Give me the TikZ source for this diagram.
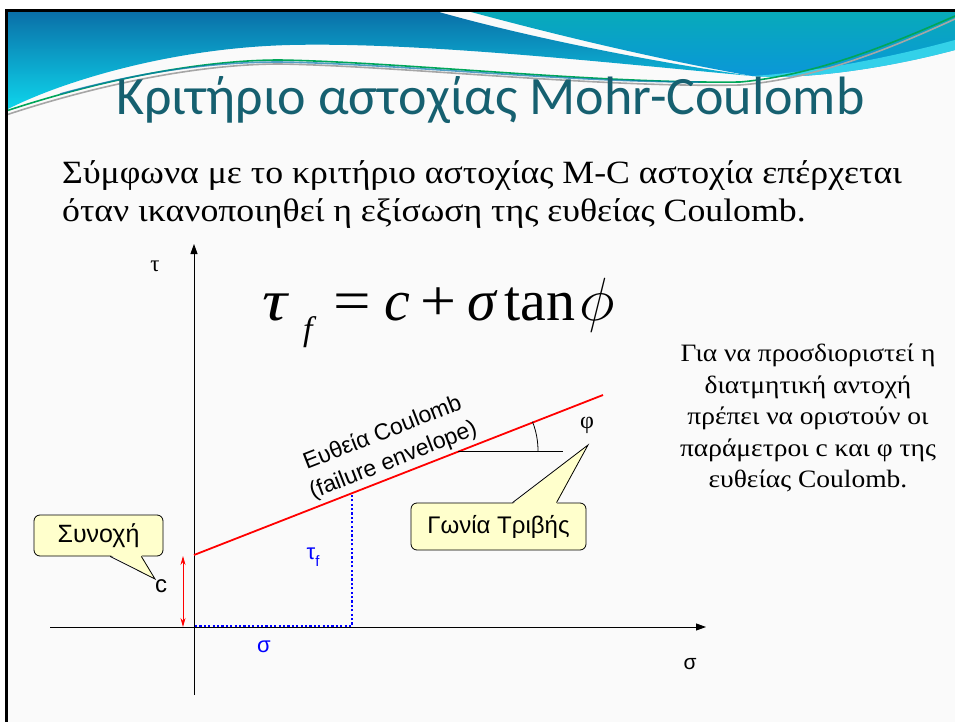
\documentclass[tikz,border=0pt]{standalone}
\usepackage{fontspec}
\setmainfont{Liberation Serif}
\newfontfamily\titlefont{Carlito}
\newfontfamily\bodyfont[FakeStretch=1.1]{Liberation Serif}
\newfontfamily\sansf{Liberation Sans}
\usetikzlibrary{arrows.meta,calc}
\definecolor{cream}{RGB}{255,255,204}
\definecolor{titleteal}{RGB}{22,96,112}
\definecolor{hdrdark}{RGB}{10,112,168}
\definecolor{hdrcyan}{RGB}{14,214,236}
\definecolor{hdrteal}{RGB}{8,170,186}
\definecolor{hdrblue}{RGB}{10,150,218}
\definecolor{slidebg}{RGB}{250,250,250}
\definecolor{pureblue}{RGB}{0,0,255}
\tikzset{
  callbox/.style={draw=black, fill=cream, rounded corners=6pt, line width=0.8pt, inner sep=0pt},
  axisline/.style={line width=0.9pt, -{Triangle[length=10pt,width=7pt]}},
  envline/.style={red, line width=1.8pt},
  dotline/.style={pureblue, line width=2.2pt, dash pattern=on 2.2pt off 2.2pt},
  lbl/.style={inner sep=0pt},
  deco/.style={line width=1.6pt},
}
\begin{document}
\begin{tikzpicture}[x=1pt,y=-1pt]
\useasboundingbox (0,0) rectangle (955,722);
% slide background and frame
\fill[white] (0,0) rectangle (955,722);
\fill[slidebg] (6,11) rectangle (955,722);
% header waves
\shade[top color=hdrdark, bottom color=hdrcyan]
  (6,12) -- (439,12) .. controls (520,35) and (640,60) .. (752,76)
  .. controls (600,62) and (420,42) .. (290,45)
  .. controls (170,48) and (60,82) .. (6,110) -- cycle;
\shade[top color=hdrteal, bottom color=hdrblue]
  (471,12) -- (955,12) -- (955,50) .. controls (880,70) and (800,80) .. (752,76)
  .. controls (650,58) and (545,32) .. (471,12) -- cycle;
\fill[hdrcyan!80!white, opacity=0.8]
  (955,50) .. controls (880,70) and (800,80) .. (752,76)
  .. controls (820,72) and (900,55) .. (955,40) -- cycle;
\draw[deco, gray!70] (6,115) .. controls (100,84) and (200,64) .. (280,64)
  .. controls (400,66) and (600,88) .. (740,85) .. controls (820,79) and (900,44) .. (955,19);
\draw[deco, teal!70!green] (6,111) .. controls (100,80) and (200,60) .. (280,60)
  .. controls (400,62) and (600,84) .. (740,82) .. controls (820,75) and (900,40) .. (955,16);
\draw[deco, hdrblue!80!black, opacity=0.7] (60,94) .. controls (140,72) and (210,62) .. (280,62)
  .. controls (400,64) and (560,82) .. (700,82);
\draw[line width=3pt] (5,11) -- (955,11);
\draw[line width=3pt] (6,10) -- (6,722);
% title
\node[lbl, anchor=base west, text=titleteal, font=\titlefont\fontsize{54}{54}\selectfont] (title) at (116,115) {Κριτήριο αστοχίας Mohr-Coulomb};
% body text
\node[lbl, anchor=base west, font=\bodyfont\fontsize{32.5}{32.5}\selectfont] (body1) at (62,183) {Σύμφωνα με το κριτήριο αστοχίας M-C αστοχία επέρχεται};
\node[lbl, anchor=base west, font=\bodyfont\fontsize{32.5}{32.5}\selectfont] (body2) at (62,222) {όταν ικανοποιηθεί η εξίσωση της ευθείας Coulomb.};
% equation
\node[lbl, anchor=base west, font=\fontsize{58}{58}\selectfont] (eq) at (262,320)
  {\makebox[39pt][l]{\itshape\scalebox{1.2}[1]{τ}}%
   \makebox[26pt][l]{\hspace{2pt}\raisebox{-0.36em}{\fontsize{34}{34}\selectfont\itshape f}}%
   \makebox[50pt][c]{\scalebox{1.15}[1]{=}}%
   \makebox[41pt][c]{\itshape c}%
   \makebox[41pt][c]{\scalebox{1.1}[1]{+}}%
   \makebox[46pt][c]{\itshape σ}%
   \makebox[70pt][c]{tan}%
   \makebox[39pt][c]{\hspace{4pt}\fontsize{24}{24}\selectfont\scalebox{2.45}{$\phi$}}};
% right paragraph
\node[lbl, align=center, font=\bodyfont\fontsize{25}{31.5}\selectfont] (para) at (808,418)
  {Για να προσδιοριστεί η\\διατμητική αντοχή\\πρέπει να οριστούν οι\\παράμετροι c και φ της\\ευθείας Coulomb.};
% axes
\coordinate (O) at (194,627);
\coordinate (ytop) at (194,244);
\coordinate (ybot) at (194,695);
\coordinate (xl) at (50,627);
\coordinate (xr) at (706,627);
\draw[axisline] (ybot) -- (ytop);
\draw[axisline] (xl) -- (xr);
\node[lbl, font=\fontsize{23}{23}\selectfont] (tau) at (155,266) {τ};
\node[lbl, font=\sansf\fontsize{21}{21}\selectfont] (sig) at (690,664) {σ};
% failure envelope
\coordinate (e0) at (194,555);
\coordinate (e1) at (603,395);
\draw[envline] (e0) -- (e1);
\node[lbl, rotate=21.4, align=center, font=\sansf\fontsize{23}{29.5}\selectfont] (envlbl) at (388,447)
  {Ευθεία Coulomb\\(failure envelope)};
% cohesion arrow
\coordinate (c0) at (183,556);
\coordinate (c1) at (183,627);
\draw[red, line width=0.8pt, {Stealth[length=9pt,width=5pt]}-{Stealth[length=9pt,width=5pt]}] (c0) -- (c1);
\node[lbl, font=\sansf\fontsize{24}{24}\selectfont] (cl) at (161,586) {c};
% sigma, tau_f
\coordinate (s0) at (195,626);
\coordinate (s1) at (352,626);
\coordinate (s2) at (352,493);
\draw[dotline] (s0) -- (s1) -- (s2);
\node[lbl, text=pureblue, font=\sansf\fontsize{22}{22}\selectfont] (sigb) at (264,647) {σ};
\node[lbl, text=pureblue, font=\sansf\fontsize{22}{22}\selectfont] (tauf) at (313,557) {τ\raisebox{-0.3em}{\fontsize{15}{15}\selectfont f}};
% friction angle
\coordinate (a0) at (458,451);
\coordinate (a1) at (563,451);
\coordinate (arcS) at (538,451);
\coordinate (arcE) at (532.5,421.8);
\draw[line width=0.8pt] (a0) -- (a1);
\draw[line width=0.8pt] (arcS) .. controls (538,441) and (536.2,431.1) .. (arcE);
\node[lbl, font=\fontsize{24}{24}\selectfont] (phi) at (587,425) {φ};
% callouts
\node[callbox, minimum width=129pt, minimum height=41pt, font=\sansf\fontsize{25}{25}\selectfont] (syn) at (98.5,535.5) {Συνοχή};
\coordinate (syntip) at (155,579);
\coordinate (synA) at ($(syn.south west)!0.59!(syn.south east)$);
\coordinate (synB) at ($(syn.south west)!0.83!(syn.south east)$);
\fill[cream] ($(synA)+(0,-1.5)$) -- (syntip) -- ($(synB)+(0,-1.5)$) -- cycle;
\draw[line width=0.8pt, line join=miter] (synA) -- (syntip) -- (synB);
\node[callbox, minimum width=175pt, minimum height=47pt, font=\sansf\fontsize{24}{24}\selectfont] (gon) at (498.5,526.5) {Γωνία Τριβής};
\coordinate (gontip) at (588,445);
\coordinate (gonA) at ($(gon.north west)!0.58!(gon.north east)$);
\coordinate (gonB) at ($(gon.north west)!0.83!(gon.north east)$);
\fill[cream] ($(gonA)+(0,1.5)$) -- (gontip) -- ($(gonB)+(0,1.5)$) -- cycle;
\draw[line width=0.8pt] (gonA) -- (gontip) -- (gonB);
\end{tikzpicture}
\end{document}
